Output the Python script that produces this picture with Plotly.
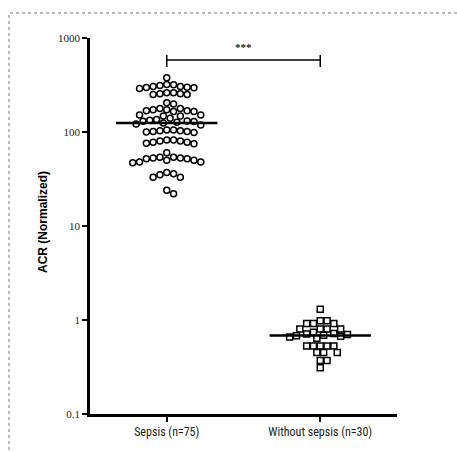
import numpy as np
import plotly.graph_objects as go

# ---- data ----
categories = ["Sepsis (n=75)", "Without sepsis (n=30)"]

sepsis = [378,
          318, 305, 300, 295, 290, 298, 305, 312, 320,
          262, 255, 250, 250, 255, 262,
          205, 198,
          178, 172, 168, 165, 165, 168, 172, 178,
          152, 148, 148, 152,
          140, 136, 133, 131, 130, 129, 127, 125, 122, 119,
          105, 103, 101, 100, 99, 101, 103, 105,
          82, 80, 78, 76, 75, 78, 80, 82,
          60,
          54, 53, 52, 50, 48, 47, 48, 50, 52, 53, 54,
          37, 35, 33, 33, 36,
          24, 22]

without_sepsis = [1.30,
                  0.98, 0.98,
                  0.92, 0.92, 0.92,
                  0.80, 0.80, 0.80, 0.80,
                  0.74, 0.72, 0.71, 0.70, 0.69, 0.68, 0.67, 0.66, 0.64,
                  0.53, 0.53, 0.53, 0.53, 0.53,
                  0.45, 0.45, 0.45,
                  0.37, 0.37,
                  0.31]

y_ticks = [0.1, 1, 10, 100, 1000]
y_ticktext = ["0.1", "1", "10", "100", "1000"]
significance = "***"
y_title = "ACR (Normalized)"

# ---- geometry helpers (pixel scales of the plot area) ----
W, H = 457, 452
ML, MR, MT, MB = 90, 60, 38, 38
PX_PER_X = (W - ML - MR) / 2.0      # x range [-0.5, 1.5]
PX_PER_DEC = (H - MT - MB) / 4.0    # y range log [-1, 3]
DIAM = 6.8

SERIF = "Times New Roman, Liberation Serif, DejaVu Serif, serif"
NARROW = "Liberation Sans Narrow, Arial Narrow, Roboto Condensed, DejaVu Sans Condensed, Liberation Sans, sans-serif"


def beeswarm(values, diam=DIAM):
    vals = np.asarray(values, dtype=float)
    ly = np.log10(vals) * PX_PER_DEC
    order = np.argsort(-vals, kind="stable")
    placed = []
    offs = np.zeros(len(vals))
    step = diam / 2.0
    for idx in order:
        y = ly[idx]
        k = 0
        while True:
            cands = [0.0] if k == 0 else [k * step, -k * step]
            ok = None
            for c in cands:
                if all((c - px) ** 2 + (y - py) ** 2 >= diam ** 2 for px, py in placed):
                    ok = c
                    break
            if ok is not None:
                placed.append((ok, y))
                offs[idx] = ok / PX_PER_X
                break
            k += 1
    return offs


fig = go.Figure()

groups = [(sepsis, "circle-open", 6), (without_sepsis, "square-open", 6)]
for i, (vals, sym, sz) in enumerate(groups):
    offs = beeswarm(vals)
    fig.add_trace(go.Scatter(
        x=i + offs, y=vals, mode="markers",
        marker=dict(symbol=sym, size=sz, color="black", line=dict(width=1.5, color="black")),
        showlegend=False, hoverinfo="y"))
    med = float(np.median(vals))
    fig.add_trace(go.Scatter(
        x=[i - 0.33, i + 0.33], y=[med, med], mode="lines",
        line=dict(color="black", width=2.5), showlegend=False, hoverinfo="skip"))

# significance bracket
top = 583
fig.add_trace(go.Scatter(
    x=[0, 0, None, 0, 1, None, 1, 1],
    y=[491, 659, None, top, top, None, 491, 659],
    mode="lines", line=dict(color="black", width=1.5),
    showlegend=False, hoverinfo="skip"))
fig.add_annotation(x=0.5, y=np.log10(800), xref="x", yref="y", text="<b>" + significance + "</b>",
                   showarrow=False, font=dict(family=SERIF, size=11, color="#222"))

fig.add_annotation(x=-0.18, y=0.51, xref="paper", yref="paper", text="<b>" + y_title + "</b>",
                   textangle=-90, showarrow=False,
                   font=dict(family="Liberation Sans, Arial", size=12, color="black"))

# dotted frame
fig.add_shape(type="rect", xref="paper", yref="paper",
              x0=(9 - ML) / (W - ML - MR), x1=1.3,
              y0=-0.3, y1=(H - MB - 13) / (H - MT - MB),
              line=dict(color="#777", width=1, dash="dot"))

fig.update_xaxes(range=[-0.5, 1.5], tickvals=[0, 1], ticktext=categories,
                 showline=True, linewidth=2.5, linecolor="black",
                 ticks="outside", ticklen=5, tickwidth=1.5, tickcolor="black",
                 showgrid=False, zeroline=False,
                 tickfont=dict(family=NARROW, size=12, color="#222"))
fig.update_yaxes(type="log", range=[-1, 3], tickvals=y_ticks, ticktext=y_ticktext,
                 showline=True, linewidth=2.5, linecolor="black",
                 ticks="outside", ticklen=5, tickwidth=1.5, tickcolor="black",
                 showgrid=False, zeroline=False,
                 tickfont=dict(family=SERIF, size=11, color="#222"))

fig.update_layout(width=W, height=H, margin=dict(l=ML, r=MR, t=MT, b=MB),
                  paper_bgcolor="white", plot_bgcolor="white", showlegend=False)

fig.write_html("out.html")
